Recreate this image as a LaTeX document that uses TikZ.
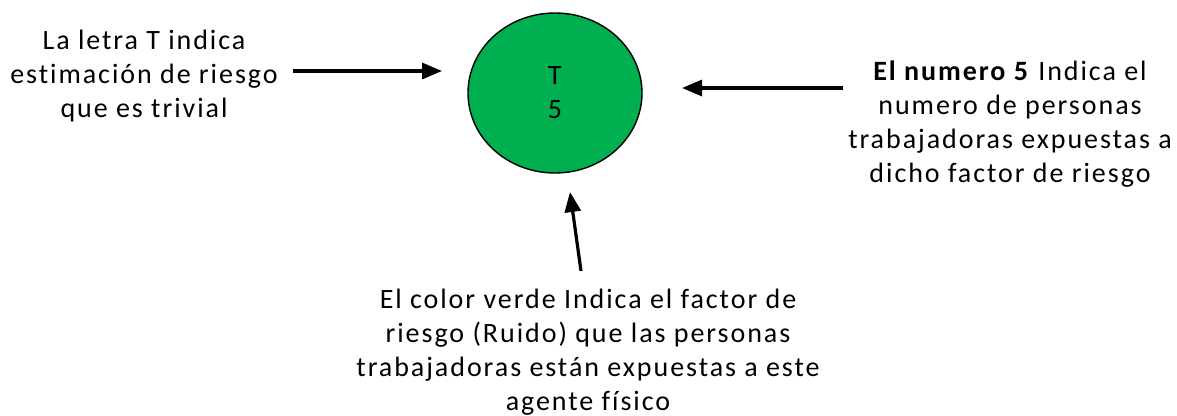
\documentclass[tikz,border=0pt]{standalone}
\usepackage{fontspec}
\setmainfont{Carlito}[LetterSpace=7,Ligatures=NoCommon]
\usetikzlibrary{shapes.geometric,arrows.meta}
\definecolor{riskgreen}{HTML}{00B050}
\begin{document}
\begin{tikzpicture}[x=1pt,y=-1pt,
  lbl/.style={align=center,inner sep=0pt,font=\fontsize{28}{34}\selectfont,anchor=base},
  arr/.style={line width=3.2pt,-{Triangle[length=20pt,width=16pt]}},
  circ/.style={ellipse,draw=black,line width=1.4pt,fill=riskgreen,minimum width=174pt,minimum height=160pt,inner sep=0pt,align=center,font=\fontsize{28}{34}\selectfont}]
\useasboundingbox (0,0) rectangle (1177,415);
\node[circ] (c) at (555,93) {T\\5};
\node[lbl] (lt) at (144,117) {La letra T indica\\estimación de riesgo\\que es trivial};
\node[lbl] (rt) at (1010,182) {\textbf{El numero 5} Indica el\\numero de personas\\trabajadoras expuestas a\\dicho factor de riesgo};
\node[lbl] (bt) at (588,410) {El color verde Indica el factor de\\riesgo (Ruido) que las personas\\trabajadoras están expuestas a este\\agente físico};
\coordinate (l1) at (293,71);
\coordinate (l2) at (442,71);
\coordinate (r1) at (843,88);
\coordinate (r2) at (682,88);
\coordinate (b1) at (581,271);
\coordinate (b2) at (570,192);
\draw[arr] (l1) -- (l2);
\draw[arr] (r1) -- (r2);
\draw[arr] (b1) -- (b2);
\end{tikzpicture}
\end{document}
